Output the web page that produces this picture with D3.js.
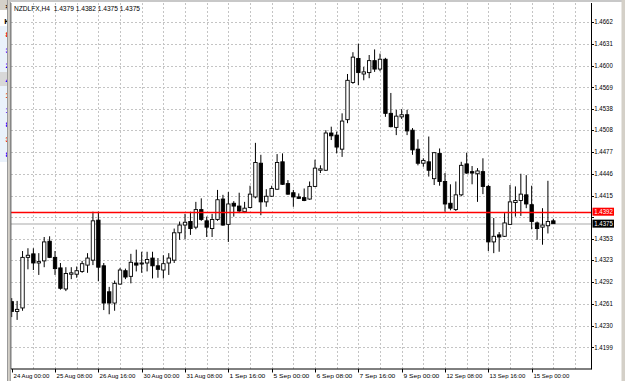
<!DOCTYPE html>
<html><head><meta charset="utf-8">
<script src="https://cdn.jsdelivr.net/npm/d3@7"></script>
<style>html,body{margin:0;padding:0;background:#fff;overflow:hidden}</style>
</head><body>
<svg id="c" width="625" height="381"></svg>
<script>
const symbol = "NZDLFX,H4";
const open = [1.4264,1.4250,1.4255,1.4327,1.4332,1.4319,1.4322,1.4350,1.4327,1.4312,
1.4282,1.4303,1.4303,1.4307,1.4316,1.4323,1.4380,1.4315,1.4278,1.4262,
1.4289,1.4308,1.4300,1.4319,1.4318,1.4319,1.4326,1.4315,1.4309,1.4319,
1.4323,1.4362,1.4373,1.4378,1.4370,1.4395,1.4379,1.4368,1.4381,1.4410,
1.4374,1.4404,1.4400,1.4392,1.4398,1.4413,1.4461,1.4406,1.4414,1.4424,
1.4463,1.4432,1.4419,1.4413,1.4412,1.4410,1.4428,1.4451,1.4451,1.4504,
1.4501,1.4481,1.4523,1.4576,1.4610,1.4588,1.4590,1.4607,1.4595,1.4609,
1.4532,1.4512,1.4527,1.4530,1.4508,1.4481,1.4461,1.4463,1.4439,1.4475,
1.4435,1.4404,1.4395,1.4416,1.4460,1.4449,1.4446,1.4449,1.4428,1.4349,
1.4359,1.4357,1.4374,1.4405,1.4408,1.4416,1.4402,1.4376,1.4370,1.4372,
1.4379];
const high = [1.4269,1.4265,1.4336,1.4340,1.4340,1.4333,1.4356,1.4357,1.4336,1.4319,
1.4313,1.4313,1.4314,1.4322,1.4333,1.4392,1.4392,1.4319,1.4285,1.4294,
1.4312,1.4311,1.4332,1.4338,1.4335,1.4335,1.4335,1.4326,1.4330,1.4333,
1.4368,1.4378,1.4389,1.4392,1.4406,1.4411,1.4385,1.4389,1.4423,1.4416,
1.4420,1.4407,1.4419,1.4406,1.4429,1.4490,1.4473,1.4424,1.4429,1.4474,
1.4475,1.4437,1.4423,1.4418,1.4425,1.4435,1.4466,1.4458,1.4508,1.4513,
1.4506,1.4532,1.4588,1.4619,1.4631,1.4598,1.4615,1.4623,1.4617,1.4611,
1.4561,1.4537,1.4538,1.4537,1.4511,1.4495,1.4468,1.4499,1.4477,1.4482,
1.4447,1.4431,1.4435,1.4463,1.4476,1.4457,1.4454,1.4468,1.4430,1.4383,
1.4363,1.4390,1.4430,1.4428,1.4446,1.4444,1.4429,1.4378,1.4397,1.4436,
1.4382];
const low = [1.4242,1.4238,1.4251,1.4310,1.4309,1.4302,1.4313,1.4326,1.4302,1.4281,
1.4279,1.4296,1.4298,1.4305,1.4305,1.4316,1.4293,1.4252,1.4246,1.4251,
1.4288,1.4296,1.4290,1.4307,1.4305,1.4307,1.4297,1.4298,1.4297,1.4302,
1.4319,1.4352,1.4353,1.4359,1.4367,1.4379,1.4356,1.4356,1.4379,1.4372,
1.4349,1.4385,1.4390,1.4390,1.4397,1.4411,1.4387,1.4399,1.4413,1.4423,
1.4430,1.4416,1.4399,1.4410,1.4407,1.4409,1.4427,1.4447,1.4450,1.4494,
1.4475,1.4470,1.4518,1.4574,1.4572,1.4579,1.4582,1.4591,1.4592,1.4527,
1.4512,1.4501,1.4524,1.4501,1.4473,1.4458,1.4456,1.4442,1.4430,1.4429,
1.4392,1.4394,1.4393,1.4414,1.4446,1.4431,1.4406,1.4417,1.4336,1.4333,
1.4335,1.4356,1.4373,1.4385,1.4386,1.4397,1.4367,1.4352,1.4345,1.4361,
1.4375];
const close = [1.4250,1.4253,1.4327,1.4330,1.4319,1.4321,1.4349,1.4327,1.4311,1.4283,
1.4304,1.4305,1.4308,1.4318,1.4326,1.4379,1.4313,1.4262,1.4262,1.4290,
1.4309,1.4299,1.4320,1.4316,1.4319,1.4324,1.4315,1.4310,1.4318,1.4326,
1.4362,1.4373,1.4377,1.4368,1.4395,1.4381,1.4370,1.4381,1.4409,1.4373,
1.4403,1.4400,1.4393,1.4397,1.4417,1.4462,1.4406,1.4414,1.4425,1.4462,
1.4431,1.4417,1.4413,1.4411,1.4408,1.4428,1.4454,1.4453,1.4504,1.4500,
1.4484,1.4521,1.4579,1.4612,1.4590,1.4591,1.4607,1.4595,1.4609,1.4532,
1.4513,1.4528,1.4530,1.4507,1.4480,1.4461,1.4465,1.4451,1.4476,1.4435,
1.4403,1.4397,1.4416,1.4458,1.4447,1.4447,1.4450,1.4428,1.4349,1.4357,
1.4356,1.4376,1.4406,1.4408,1.4417,1.4403,1.4378,1.4368,1.4373,1.4378,
1.4375];
const yTickValues = [1.4199,1.4230,1.4261,1.4292,1.4323,1.4353,1.4384,1.4415,1.4446,1.4477,1.4508,1.4538,1.4569,1.4600,1.4631,1.4662];
const hiddenYLabels = [1.4384];
const redLevel = 1.4392;
const bidLevel = 1.4375;
const firstBarUTC = [2011, 7, 24, 0];
const barHours = 4;
const labelEvery = 8;
const gridEvery = 4;

// bar times (H4, weekdays only)
const times = [];
{
  let t = new Date(Date.UTC(...firstBarUTC));
  while (times.length < open.length) {
    const wd = t.getUTCDay();
    if (wd !== 0 && wd !== 6) times.push(new Date(t));
    t = new Date(t.getTime() + barHours * 3600e3);
  }
}
const fmt = d3.utcFormat("%-d %b %H:%M");
const bars = open.map((o, i) => ({i, o, h: high[i], l: low[i], c: close[i], t: times[i]}));

const svg = d3.select("#c");
const L = 11, R = 591.5, T = 3, B = 369;
const x = d3.scaleLinear().domain([0, 104]).range([11.7, 575]);
const y = d3.scaleLinear().domain([1.4199, 1.4662]).range([347.3, 22]);
const font = "Liberation Sans, Arial, sans-serif";

svg.append("rect").attr("width", 625).attr("height", 381).attr("fill", "#fff");

// left side panel (partially visible window)
const lp = svg.append("g");
lp.append("rect").attr("x", 0).attr("y", 0).attr("width", 8).attr("height", 10).attr("fill", "#d4d0c8");
lp.append("rect").attr("x", 0).attr("y", 26).attr("width", 8).attr("height", 136).attr("fill", "#eaf2fb");
lp.append("rect").attr("x", 0).attr("y", 72).attr("width", 8).attr("height", 14).attr("fill", "#d8d8d8");
svg.append("clipPath").attr("id", "lpc").append("rect").attr("x", 0).attr("y", 0).attr("width", 7.3).attr("height", 381);
const lpRows = [["×", 6, "#000"], ["K", 21, "#000"], ["8", 34, "#ff0000"], ["3", 50, "#0000ff"], ["2", 65, "#0000ff"], ["4", 80, "#0000ff"], ["1", 95, "#ff0000"], ["1", 110, "#0000ff"], ["8", 124, "#0000ff"], ["3", 139, "#ff0000"], ["8", 154, "#0000ff"]];
lp.append("g").attr("clip-path", "url(#lpc)").selectAll("text").data(lpRows).join("text")
  .attr("x", 10).attr("y", d => d[1]).attr("dy", "0.35em").attr("text-anchor", "end")
  .attr("font-family", font).attr("font-size", 8).attr("font-weight", "bold").attr("fill", d => d[2]).text(d => d[0]);
svg.append("rect").attr("x", 7.3).attr("y", 0).attr("width", 3.4).attr("height", 381).attr("fill", "#d4d0c8");
svg.append("line").attr("x1", 7.5).attr("x2", 7.5).attr("y1", 0).attr("y2", 381).attr("stroke", "#9a9a9a");
svg.append("line").attr("x1", 10.3).attr("x2", 10.3).attr("y1", 0).attr("y2", 381).attr("stroke", "#9a9a9a");
// top and right frame bands
svg.append("rect").attr("x", 10).attr("y", 0).attr("width", 615).attr("height", 2).attr("fill", "#c8c8c8");
svg.append("rect").attr("x", 621.5).attr("y", 0).attr("width", 3.5).attr("height", 381).attr("fill", "#d4d0c8");

// plot clip
svg.append("clipPath").attr("id", "pc").append("rect").attr("x", L).attr("y", T).attr("width", R - L).attr("height", B - T);
const plot = svg.append("g").attr("clip-path", "url(#pc)");

// grid
const gridIdx = d3.range(gridEvery, 105, gridEvery);
plot.append("g").selectAll("line").data(gridIdx).join("line")
  .attr("x1", d => Math.round(x(d)) + 0.5).attr("x2", d => Math.round(x(d)) + 0.5)
  .attr("y1", T).attr("y2", B)
  .attr("stroke", "#c4c4c4").attr("stroke-width", 1).attr("stroke-dasharray", "2,2");
plot.append("g").selectAll("line").data(yTickValues).join("line")
  .attr("x1", L).attr("x2", R)
  .attr("y1", d => Math.round(y(d)) + 0.5).attr("y2", d => Math.round(y(d)) + 0.5)
  .attr("stroke", "#c4c4c4").attr("stroke-width", 1).attr("stroke-dasharray", "2,2");

// bid line
plot.append("line").attr("x1", L).attr("x2", R).attr("y1", Math.round(y(bidLevel))).attr("y2", Math.round(y(bidLevel)))
  .attr("stroke", "#d4d4d4").attr("stroke-width", 2);

// candles
const bw = 3.4;
const cg = plot.append("g").selectAll("g").data(bars).join("g");
cg.append("line")
  .attr("x1", d => x(d.i)).attr("x2", d => x(d.i))
  .attr("y1", d => y(d.h)).attr("y2", d => y(d.l))
  .attr("stroke", "#000").attr("stroke-width", 1);
cg.append("rect")
  .attr("x", d => x(d.i) - bw / 2)
  .attr("y", d => y(Math.max(d.o, d.c)))
  .attr("width", bw)
  .attr("height", d => Math.max(1, Math.abs(y(d.o) - y(d.c))))
  .attr("fill", d => d.c >= d.o ? "#fff" : "#000")
  .attr("stroke", "#000").attr("stroke-width", 0.9);

// red horizontal level
plot.append("line").attr("x1", L).attr("x2", R).attr("y1", Math.round(y(redLevel)) + 0.5).attr("y2", Math.round(y(redLevel)) + 0.5)
  .attr("stroke", "#ff0000").attr("stroke-width", 1.5);

// axes lines
svg.append("line").attr("x1", L).attr("x2", L).attr("y1", T).attr("y2", B).attr("stroke", "#555").attr("stroke-width", 0.8);
svg.append("line").attr("x1", R).attr("x2", R).attr("y1", T).attr("y2", B + 0.5).attr("stroke", "#000").attr("stroke-width", 1);
svg.append("line").attr("x1", L).attr("x2", R).attr("y1", B).attr("y2", B).attr("stroke", "#000").attr("stroke-width", 1);

// y axis ticks and labels
const yg = svg.append("g");
yg.selectAll("line").data(yTickValues).join("line")
  .attr("x1", R).attr("x2", R + 2.5)
  .attr("y1", d => Math.round(y(d)) + 0.5).attr("y2", d => Math.round(y(d)) + 0.5)
  .attr("stroke", "#000");
yg.selectAll("text").data(yTickValues.filter(v => !hiddenYLabels.includes(v))).join("text")
  .attr("x", R + 2.8).attr("y", d => y(d)).attr("dy", "0.36em")
  .attr("font-family", font).attr("font-size", 6.3).attr("fill", "#000")
  .attr("textLength", 18.5).attr("lengthAdjust", "spacingAndGlyphs")
  .text(d => d.toFixed(4));

// x axis ticks and labels
const xTickIdx = d3.range(0, bars.length, labelEvery);
const xg = svg.append("g");
xg.selectAll("line").data(xTickIdx).join("line")
  .attr("x1", d => Math.round(x(d)) + 0.5).attr("x2", d => Math.round(x(d)) + 0.5)
  .attr("y1", B).attr("y2", B + 3.5).attr("stroke", "#000");
xg.selectAll("text").data(xTickIdx).join("text")
  .attr("x", d => Math.round(x(d)) + 1.5).attr("y", 378.2)
  .attr("font-family", font).attr("font-size", 6.2).attr("fill", "#000")
  .attr("textLength", 35.8).attr("lengthAdjust", "spacingAndGlyphs")
  .text(d => fmt(times[d]));

// price boxes
const boxes = [[redLevel, "#ff0000"], [bidLevel, "#000"]];
const bg = svg.append("g").selectAll("g").data(boxes).join("g");
bg.append("rect").attr("x", R + 1).attr("y", d => y(d[0]) - 4).attr("width", 21.5).attr("height", 8)
  .attr("fill", d => d[1]);
bg.append("text").attr("x", R + 2.8).attr("y", d => y(d[0])).attr("dy", "0.36em")
  .attr("font-family", font).attr("font-size", 6.3).attr("fill", "#fff")
  .attr("textLength", 18.5).attr("lengthAdjust", "spacingAndGlyphs")
  .text(d => d[0].toFixed(4));

// title
const last = bars[bars.length - 1];
svg.append("text").attr("x", 14).attr("y", 11)
  .attr("font-family", font).attr("font-size", 6.6).attr("fill", "#000")
  .attr("textLength", 126).attr("lengthAdjust", "spacingAndGlyphs")
  .style("white-space", "pre")
  .text(`${symbol}  ${last.o.toFixed(4)} ${last.h.toFixed(4)} ${last.l.toFixed(4)} ${last.c.toFixed(4)}`);
</script>
</body></html>
